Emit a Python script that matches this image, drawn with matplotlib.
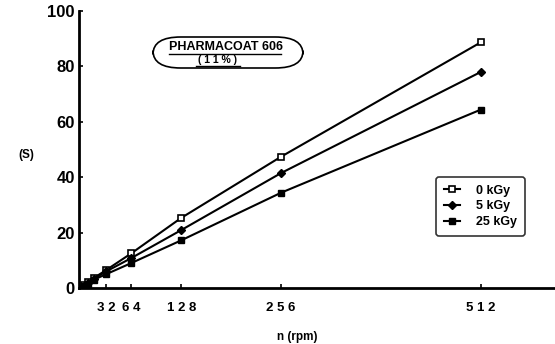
import matplotlib.pyplot as plt
from matplotlib.patches import FancyBboxPatch
from matplotlib.lines import Line2D

plt.rcParams['font.family'] = ['Liberation Sans', 'DejaVu Sans']
plt.rcParams['font.weight'] = 'bold'

# speed (rpm) and S values
rpm = [4, 8, 16, 32, 64, 128, 256, 512]
s_0kgy = [1.0, 2.0, 3.6, 6.5, 12.5, 25.3, 47.4, 88.7]
s_5kgy = [0.9, 1.8, 3.3, 6.0, 10.8, 20.9, 41.5, 78.0]
s_25kgy = [0.8, 1.5, 3.0, 5.0, 9.0, 17.2, 34.4, 64.4]
xtick_pos = [32, 64, 128, 256, 512]
xtick_lab = ['3 2', '6 4', '1 2 8', '2 5 6', '5 1 2']
ytick_pos = [0, 20, 40, 60, 80, 100]

fig = plt.figure(figsize=(5.55, 3.44), dpi=100)
ax = fig.add_axes([0.1423, 0.1628, 0.856, 0.805])

ax.plot(rpm, s_0kgy, color='black', lw=1.5, marker='s', ms=4.5,
        mfc='white', mec='black', mew=1.2, label='0 kGy')
ax.plot(rpm, s_5kgy, color='black', lw=1.5, marker='D', ms=4,
        mfc='black', mec='black', label='5 kGy')
ax.plot(rpm, s_25kgy, color='black', lw=1.5, marker='s', ms=4.5,
        mfc='black', mec='black', label='25 kGy')

ax.set_xlim(-3, 606)
ax.set_ylim(0, 100)
ax.set_xticks(xtick_pos)
ax.set_xticklabels(xtick_lab, fontsize=9.5, fontweight='bold')
ax.set_yticks(ytick_pos)
ax.set_yticklabels([str(v) for v in ytick_pos], fontsize=12, fontweight='bold')
ax.tick_params(direction='in', length=3, width=1.2)
ax.tick_params(axis='x', pad=10)
ax.tick_params(axis='y', pad=3)

for side in ['top', 'right']:
    ax.spines[side].set_visible(False)
for side in ['left', 'bottom']:
    ax.spines[side].set_linewidth(2)

fig.text(18 / 555, 1 - 155 / 344, '(S)', fontsize=8.5,
         ha='left', va='center')
fig.text(297 / 555, 1 - 337 / 344, 'n (rpm)', fontsize=8.5, fontweight='bold',
         ha='center', va='center')

# title box
box = FancyBboxPatch((153 / 555, 1 - 68 / 344), 150 / 555, 31 / 344,
                     boxstyle='round,pad=0.0,rounding_size=0.05',
                     transform=fig.transFigure, fc='white', ec='black', lw=1.2)
fig.add_artist(box)
fig.text(226 / 555, 1 - 47 / 344, 'PHARMACOAT 606', fontsize=9,
         fontweight='bold', ha='center', va='center')
fig.text(218 / 555, 1 - 60 / 344, '( 1 1 % )', fontsize=7.5,
         ha='center', va='center')
fig.add_artist(Line2D([169 / 555, 281 / 555], [1 - 54 / 344, 1 - 54 / 344],
                      transform=fig.transFigure, color='black', lw=1))
fig.add_artist(Line2D([196 / 555, 240 / 555], [1 - 66 / 344, 1 - 66 / 344],
                      transform=fig.transFigure, color='black', lw=1))

leg = ax.legend(loc='upper left', bbox_to_anchor=(0.752, 0.40),
                frameon=True, fancybox=True, edgecolor='black',
                prop={'weight': 'bold', 'size': 9}, handlelength=1.3,
                labelspacing=0.3, borderpad=0.6, handletextpad=1.3,
                borderaxespad=0)
leg.get_frame().set_linewidth(1.2)

fig.savefig('out.png', dpi=100)
